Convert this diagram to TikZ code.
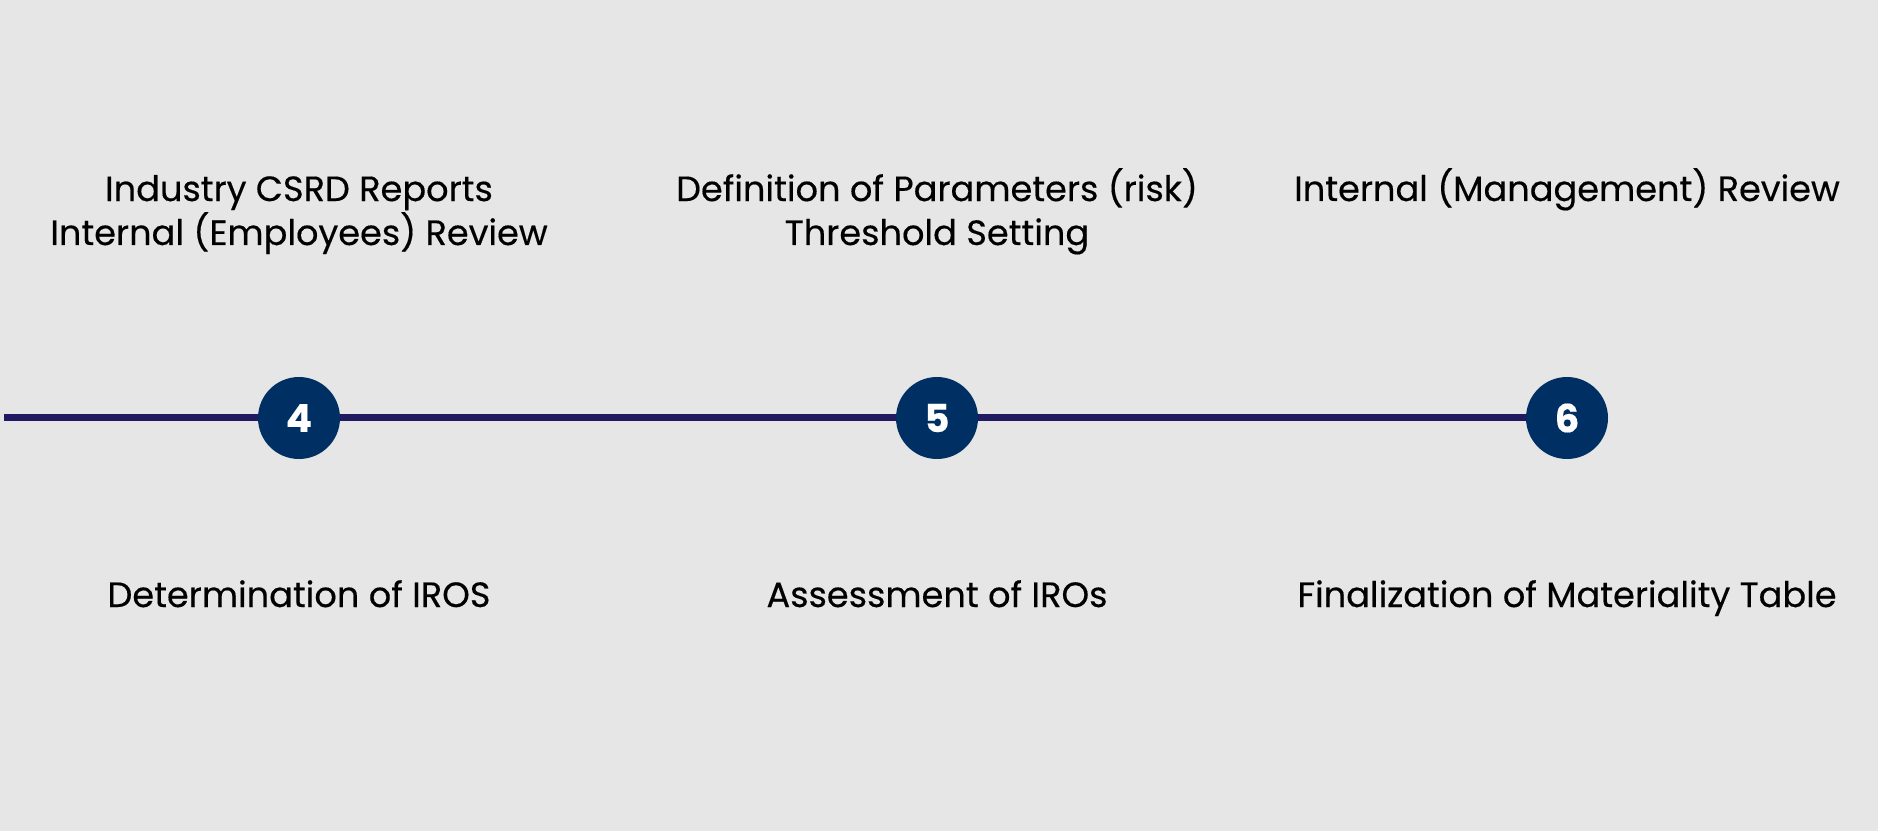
\documentclass[tikz,border=0pt]{standalone}
\usepackage{fontspec}
\setmainfont{Poppins}[FakeBold=0.35]
\usepackage{tikz}
\usetikzlibrary{positioning,calc}

\definecolor{bgGrey}{RGB}{230,230,230}
\definecolor{lineNavy}{RGB}{32,26,96}
\definecolor{dotNavy}{RGB}{0,48,99}

\begin{document}
\begin{tikzpicture}[font=\fontsize{20}{25}\selectfont,
	stepdot/.style={circle,fill=dotNavy,minimum size=1.64cm,inner sep=0,
		text=white,font=\fontsize{22}{24}\selectfont\bfseries},
	steptext/.style={align=center,anchor=base}]

		% background
		\fill[bgGrey] (0,0) rectangle (37.56,16.62);
		\useasboundingbox (0,0) rectangle (37.56,16.62);

		\coordinate (start) at (0.08,8.27);
		\coordinate (stop) at (31.34,8.27);

		% timeline
		\draw[lineNavy,line width=3.6pt] (start) -- (stop);

		\node[stepdot] (four) at (5.98,8.26) {4};
		\node[stepdot] (five) at (18.74,8.26) {5};
		\node[stepdot] (six) at (31.34,8.26) {6};

		% base = last line, so two-line texts sit one line lower
		\node[steptext] (four-top) at ($(four)+(0,3.46)$)
			{Industry CSRD Reports\\Internal (Employees) Review};
		\node[steptext] (five-top) at ($(five)+(0,3.46)$)
			{Definition of Parameters (risk)\\Threshold Setting};
		\node[steptext] (six-top) at ($(six)+(0,4.34)$)
			{Internal (Management) Review};

		\node[steptext] (four-bot) at ($(four)+(0,-3.78)$) {Determination of IROS};
		\node[steptext] (five-bot) at ($(five)+(0,-3.78)$) {Assessment of IROs};
		\node[steptext] (six-bot) at ($(six)+(0,-3.78)$) {Finalization of Materiality Table};

	\end{tikzpicture}
\end{document}
